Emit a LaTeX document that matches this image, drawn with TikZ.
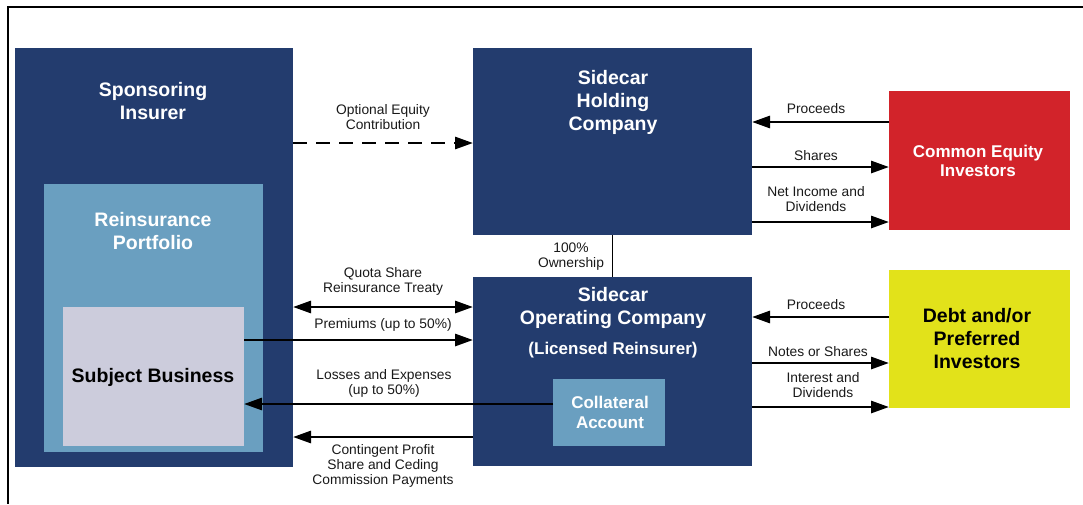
\documentclass[tikz,border=0pt]{standalone}
\usepackage{fontspec}
\setmainfont{Liberation Sans}
\usetikzlibrary{arrows.meta}
\definecolor{navy}{HTML}{233C6E}
\definecolor{ltblue}{HTML}{6A9FC0}
\definecolor{redbox}{HTML}{D2232A}
\definecolor{yelbox}{HTML}{E2E21A}
\definecolor{graybox}{HTML}{CCCCDC}
\begin{document}
\begin{tikzpicture}[x=1pt,y=-1pt,
  box/.style={inner sep=0pt, outer sep=0pt, anchor=north west},
  title/.style={align=center, font=\bfseries\fontsize{19.5}{23}\selectfont, text=white, inner sep=0pt},
  lbl/.style={align=center, font=\fontsize{13.8}{15}\selectfont, inner sep=0pt, text=black!90},
  flow/.style={line width=2.8pt, -{Triangle[length=18pt,width=12pt]}},
  twoway/.style={line width=2.8pt, {Triangle[length=18pt,width=12pt]}-{Triangle[length=18pt,width=12pt]}},
]
\useasboundingbox (0,0) rectangle (1083,504);
% frame
\coordinate (ftl) at (8,7);
\coordinate (ftr) at (1083,7);
\coordinate (fbl) at (8,504);
\draw[line width=2.4pt] (ftr) -- (ftl) -- (fbl);
% boxes
\node[box, fill=navy, minimum width=278pt, minimum height=419pt] (spons) at (15,48) {};
\node[box, fill=ltblue, minimum width=219pt, minimum height=268pt] (port) at (44,184) {};
\node[box, fill=graybox, minimum width=181pt, minimum height=139pt] (subj) at (63,307) {};
\node[box, fill=navy, minimum width=279pt, minimum height=187pt] (hold) at (473,48) {};
\node[box, fill=navy, minimum width=279pt, minimum height=189pt] (op) at (473,277) {};
\node[box, fill=ltblue, minimum width=112pt, minimum height=67pt] (coll) at (553,379) {};
\node[box, fill=redbox, minimum width=181pt, minimum height=139pt] (cei) at (889,91) {};
\node[box, fill=yelbox, minimum width=181pt, minimum height=138pt] (debt) at (889,270) {};
% titles
\node[title] (tspons) at (153,101.5) {Sponsoring\\Insurer};
\node[title] (tport) at (153,231.5) {Reinsurance\\Portfolio};
\node[title, text=black] (tsubj) at (153,377) {Subject Business};
\node[title] (thold) at (613,102) {Sidecar\\Holding\\Company};
\node[title] (top) at (613,307.5) {Sidecar\\Operating Company};
\node[title, font=\bfseries\fontsize{17}{23}\selectfont] (tlic) at (613,350) {(Licensed Reinsurer)};
\node[title, font=\bfseries\fontsize{17}{20}\selectfont] (tcoll) at (610,412) {Collateral\\Account};
\node[title, font=\bfseries\fontsize{17}{19}\selectfont] (tcei) at (978,160.5) {Common Equity\\Investors};
\node[title, text=black] (tdebt) at (977,338.5) {Debt and/or\\Preferred\\Investors};
% connectors
\draw[flow, dash pattern=on 14pt off 9pt] (spons.east |- 0,143) -- (hold.west |- 0,143);
\draw[twoway] (spons.east |- 0,307) -- (op.west |- 0,307);
\draw[flow] (subj.east |- 0,340) -- (op.west |- 0,340);
\draw[flow] (coll.west |- 0,404) -- (subj.east |- 0,404);
\draw[flow] (op.west |- 0,437) -- (spons.east |- 0,437);
\draw[flow] (cei.west |- 0,122) -- (hold.east |- 0,122);
\draw[flow] (hold.east |- 0,167) -- (cei.west |- 0,167);
\draw[flow] (hold.east |- 0,222) -- (cei.west |- 0,222);
\draw[flow] (debt.west |- 0,317) -- (op.east |- 0,317);
\draw[flow] (op.east |- 0,363) -- (debt.west |- 0,363);
\draw[flow] (op.east |- 0,407) -- (debt.west |- 0,407);
\draw[line width=1.2pt] (hold.south) -- (op.north);
% labels
\node[lbl] (lopt) at (383,117) {Optional Equity\\Contribution};
\node[lbl] (lquota) at (383,281.5) {Quota Share\\Reinsurance Treaty};
\node[lbl] (lprem) at (383,325) {Premiums (up to 50\%)};
\node[lbl] (lloss) at (384,383) {Losses and Expenses\\(up to 50\%)};
\node[lbl] (lcont) at (383,466) {Contingent Profit\\Share and Ceding\\Commission Payments};
\node[lbl] (lown) at (571,256.5) {100\%\\Ownership};
\node[lbl] (lp1) at (816,109) {Proceeds};
\node[lbl] (lsh) at (816,156) {Shares};
\node[lbl] (lni) at (816,199.5) {Net Income and\\Dividends};
\node[lbl] (lp2) at (816,305) {Proceeds};
\node[lbl] (lns) at (818,352) {Notes or Shares};
\node[lbl] (lint) at (823,385.5) {Interest and\\Dividends};
\end{tikzpicture}
\end{document}
